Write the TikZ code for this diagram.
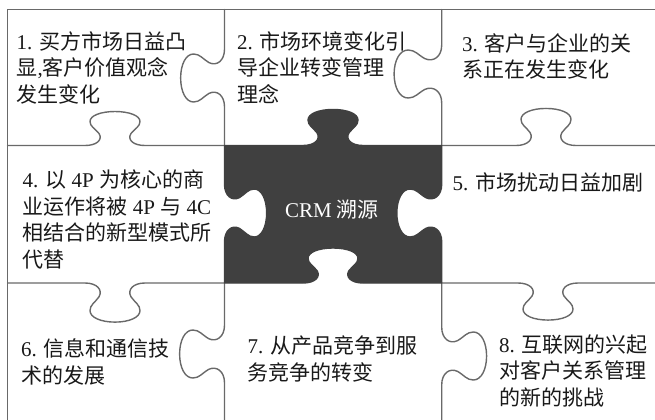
\documentclass[tikz,border=0pt]{standalone}
\usepackage{fontspec}
\setmainfont{Liberation Serif}
\newfontfamily\cjk{Noto Sans CJK SC}
\newcommand\latn[1]{{\rmfamily #1}}
\definecolor{linegray}{RGB}{105,105,105}
\definecolor{darkpiece}{RGB}{64,64,64}
\definecolor{txt}{RGB}{25,25,25}
\tikzset{
  htab/.style n args={4}{insert path={
    -- ({#1-30*(#3)},{#2})
    .. controls ({#1-18*(#3)},{#2}) and ({#1-12*(#3)},{#2+6*(#4)}) .. ({#1-16*(#3)},{#2+12*(#4)})
    .. controls ({#1-20*(#3)},{#2+17*(#4)}) and ({#1-25*(#3)},{#2+19*(#4)}) .. ({#1-25*(#3)},{#2+24*(#4)})
    .. controls ({#1-25*(#3)},{#2+30*(#4)}) and ({#1-14*(#3)},{#2+34*(#4)}) .. ({#1},{#2+34*(#4)})
    .. controls ({#1+14*(#3)},{#2+34*(#4)}) and ({#1+25*(#3)},{#2+30*(#4)}) .. ({#1+25*(#3)},{#2+24*(#4)})
    .. controls ({#1+25*(#3)},{#2+19*(#4)}) and ({#1+20*(#3)},{#2+17*(#4)}) .. ({#1+16*(#3)},{#2+12*(#4)})
    .. controls ({#1+12*(#3)},{#2+6*(#4)}) and ({#1+18*(#3)},{#2}) .. ({#1+30*(#3)},{#2})
  }},
  vtab/.style n args={4}{insert path={
    -- ({#1},{#2-30*(#3)})
    .. controls ({#1},{#2-18*(#3)}) and ({#1+6*(#4)},{#2-12*(#3)}) .. ({#1+12*(#4)},{#2-16*(#3)})
    .. controls ({#1+17*(#4)},{#2-20*(#3)}) and ({#1+19*(#4)},{#2-25*(#3)}) .. ({#1+24*(#4)},{#2-25*(#3)})
    .. controls ({#1+30*(#4)},{#2-25*(#3)}) and ({#1+34*(#4)},{#2-14*(#3)}) .. ({#1+34*(#4)},{#2})
    .. controls ({#1+34*(#4)},{#2+14*(#3)}) and ({#1+30*(#4)},{#2+25*(#3)}) .. ({#1+24*(#4)},{#2+25*(#3)})
    .. controls ({#1+19*(#4)},{#2+25*(#3)}) and ({#1+17*(#4)},{#2+20*(#3)}) .. ({#1+12*(#4)},{#2+16*(#3)})
    .. controls ({#1+6*(#4)},{#2+12*(#3)}) and ({#1},{#2+18*(#3)}) .. ({#1},{#2+30*(#3)})
  }},
  gridline/.style={draw=linegray, line width=1.4bp, line join=round, line cap=round},
  darkshape/.style={fill=darkpiece, draw=darkpiece, line width=1.4bp, line join=round},
  piecetext/.style={anchor=base west, align=left, inner sep=0pt, text=txt,
    font=\cjk\fontsize{21bp}{26.5bp}\selectfont},
  crmtext/.style={anchor=center, inner sep=0pt, text=white,
    font=\cjk\fontsize{21bp}{26.5bp}\selectfont},
}
\begin{document}
\begin{tikzpicture}[x=1bp,y=-1bp]
\useasboundingbox (0,0) rectangle (655,419);
\fill[white] (0,0) rectangle (655,419);
% outer border
\draw[gridline] (7.5,425) -- (7.5,9.5) -- (660,9.5);
% vertical line 1
\draw[gridline] (224.5,9.5) [vtab={224.5}{78}{0.96}{-1.29}] -- (224.5,145.5);
\draw[gridline] (224.5,283) [vtab={224.5}{354}{0.96}{-1.32}] -- (224.5,425);
% vertical line 2
\draw[gridline] (441.7,9.5) [vtab={441.7}{74}{0.96}{-1.4}] -- (441.7,145.5);
\draw[gridline] (441.7,283) [vtab={441.7}{356}{0.96}{1.32}] -- (441.7,425);
% horizontal line 1
\draw[gridline] (7.5,145.5) [htab={115}{145.5}{1}{-1}] -- (224.5,145.5);
\draw[gridline] (441.7,145.5) [htab={546}{145.5}{1}{-1.09}] -- (660,145.5);
% horizontal line 2
\draw[gridline] (7.5,283) [htab={115}{283}{1}{1.15}] -- (224.5,283);
\draw[gridline] (441.7,283) [htab={548}{283}{1}{1.09}] -- (660,283);
% central dark piece
\path[darkshape] (224.5,145.5) [htab={333}{145.5}{1}{-1.06}] -- (441.7,145.5)
  [vtab={441.7}{213}{0.96}{-1.32}] -- (441.7,283)
  [htab={333}{283}{-1}{-1.03}] -- (224.5,283)
  [vtab={224.5}{213}{-0.96}{1.24}] -- cycle;
% texts
\node[piecetext] (p1) at (16.5,102) {\latn{1. }买方市场日益凸\\显\latn{,}客户价值观念\\发生变化};
\node[piecetext] (p2) at (237,102) {\latn{2. }市场环境变化引\\导企业转变管理\\理念};
\node[piecetext] (p3) at (462,77.5) {\latn{3. }客户与企业的关\\系正在发生变化};
\node[piecetext] (p4) at (22.5,267) {\latn{4. }以\latn{ 4P }为核心的商\\业运作将被\latn{ 4P }与\latn{ 4C}\\相结合的新型模式所\\代替};
\node[piecetext] (p5) at (452.5,190.5) {\latn{5. }市场扰动日益加剧};
\node[piecetext] (p6) at (21,383) {\latn{6. }信息和通信技\\术的发展};
\node[piecetext] (p7) at (247.5,380) {\latn{7. }从产品竞争到服\\务竞争的转变};
\node[piecetext] (p8) at (499,405) {\latn{8. }互联网的兴起\\对客户关系管理\\的新的挑战};
\node[crmtext] (crm) at (332,210) {\latn{CRM }溯源};
\end{tikzpicture}
\end{document}
